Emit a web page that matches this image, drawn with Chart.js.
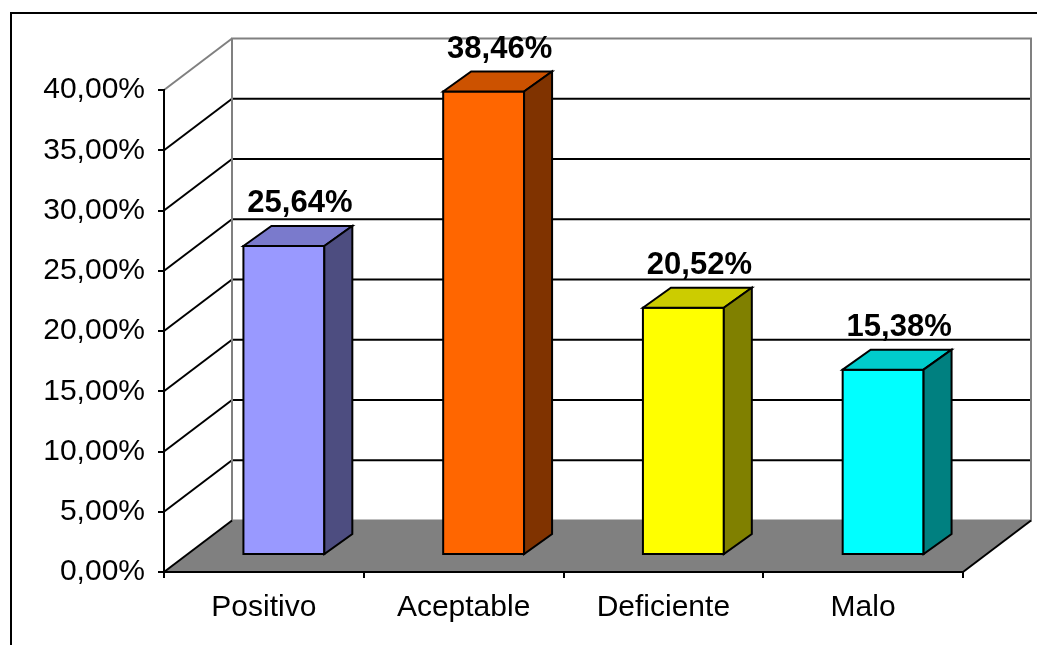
<!DOCTYPE html>
<html>
<head>
<meta charset="utf-8">
<title>Evaluación</title>
<script src="https://cdn.jsdelivr.net/npm/chart.js@4.4.1/dist/chart.umd.min.js"></script>
<style>
  html, body { margin: 0; padding: 0; background: #fff; }
  canvas { display: block; }
</style>
</head>
<body>
<canvas id="chart" width="1037" height="645"></canvas>
<script>
// ---- data ----
const categories = ['Positivo', 'Aceptable', 'Deficiente', 'Malo'];
const values = [25.64, 38.46, 20.52, 15.38];
const yMin = 0, yMax = 40, yStep = 5;

// face colours of each bar: front, top, right side
const frontColors = ['#9999FF', '#FF6600', '#FFFF00', '#00FFFF'];
const topColors = ['#7A7ACC', '#CC5200', '#CCCC00', '#00CCCC'];
const sideColors = ['#4D4D80', '#803300', '#808000', '#008080'];

// ---- 3d geometry (pixel offsets into depth) ----
const WALL = { dx: 68, dy: -51.5 };
const BAR_FRONT = { dx: 20, dy: -17 };
const BAR_BACK = { dx: 48, dy: -37 };

const FONT = 'Arial, "Liberation Sans", sans-serif';

function pct(v){ return Number(v).toFixed(2).replace('.', ',') + '%'; }

function poly(ctx, pts, fill, stroke, lw){
  ctx.beginPath();
  ctx.moveTo(pts[0][0], pts[0][1]);
  for(let i=1;i<pts.length;i++) ctx.lineTo(pts[i][0], pts[i][1]);
  ctx.closePath();
  if(fill){ ctx.fillStyle = fill; ctx.fill(); }
  if(stroke){ ctx.strokeStyle = stroke; ctx.lineWidth = lw || 2; ctx.stroke(); }
}

function seg(ctx, x1, y1, x2, y2, color, lw){
  ctx.beginPath();
  ctx.moveTo(x1, y1);
  ctx.lineTo(x2, y2);
  ctx.strokeStyle = color;
  ctx.lineWidth = lw || 2;
  ctx.stroke();
}

// walls, floor and frame behind the axes
const box3d = {
  id: 'box3d',
  beforeDraw(chart){
    const { ctx, chartArea: a, scales: { y } } = chart;
    const L = a.left, R = a.right, B = y.getPixelForValue(yMin), T = y.getPixelForValue(yMax);
    const dx = WALL.dx, dy = WALL.dy;
    ctx.save();

    // outer frame
    ctx.fillStyle = '#000';
    ctx.fillRect(10, 12, 2, chart.height - 12);
    ctx.fillRect(10, 12, chart.width - 10, 2);

    // back wall + side wall gridlines
    for(let v = yMin + yStep; v < yMax; v += yStep){
      const py = y.getPixelForValue(v);
      seg(ctx, L + dx, py + dy, R + dx, py + dy, '#000', 2);
      seg(ctx, L, py, L + dx, py + dy, '#000', 2);
    }
    // wall outlines
    ctx.lineJoin = 'miter';
    poly(ctx, [[L + dx, T + dy], [R + dx, T + dy], [R + dx, B + dy], [L + dx, B + dy]], null, '#808080', 2);
    seg(ctx, L, T, L + dx, T + dy, '#808080', 2);

    // floor
    poly(ctx, [[L, B], [R, B], [R + dx, B + dy], [L + dx, B + dy]], '#808080', null);
    seg(ctx, L, B, L + dx, B + dy, '#000', 2);
    seg(ctx, R, B, R + dx, B + dy, '#000', 2);
    seg(ctx, L, B, R, B, '#000', 2);
    ctx.restore();
  },
  beforeDatasetsDraw(chart){
    const { ctx } = chart;
    const meta = chart.getDatasetMeta(0);
    ctx.save();
    ctx.lineJoin = 'miter';
    meta.data.forEach((el, i) => {
      const { x, y, base, width } = el.getProps(['x', 'y', 'base', 'width'], true);
      const l = x - width / 2, r = x + width / 2;
      const f = BAR_FRONT, b = BAR_BACK;
      poly(ctx, [[l + f.dx, y + f.dy], [r + f.dx, y + f.dy], [r + f.dx, base + f.dy], [l + f.dx, base + f.dy]], frontColors[i], '#000', 2);
      poly(ctx, [[l + f.dx, y + f.dy], [l + b.dx, y + b.dy], [r + b.dx, y + b.dy], [r + f.dx, y + f.dy]], topColors[i], '#000', 2);
      poly(ctx, [[r + f.dx, y + f.dy], [r + b.dx, y + b.dy], [r + b.dx, base + b.dy], [r + f.dx, base + f.dy]], sideColors[i], '#000', 2);
    });
    ctx.restore();
    return false; // faces drawn above, skip the flat bars
  },
  afterDraw(chart){
    const { ctx } = chart;
    const meta = chart.getDatasetMeta(0);
    ctx.save();
    ctx.font = 'bold 31px ' + FONT;
    ctx.fillStyle = '#000';
    ctx.textAlign = 'center';
    ctx.textBaseline = 'alphabetic';
    meta.data.forEach((el, i) => {
      const { x, y } = el.getProps(['x', 'y'], true);
      ctx.fillText(pct(values[i]), x + 36, y - 51);
    });
    ctx.restore();
  }
};

new Chart(document.getElementById('chart'), {
  type: 'bar',
  data: {
    labels: categories,
    datasets: [{
      data: values,
      backgroundColor: frontColors,
      categoryPercentage: 1,
      barPercentage: 0.405
    }]
  },
  options: {
    responsive: false,
    animation: false,
    layout: { padding: { left: 0, right: 74, top: 90, bottom: 0 } },
    plugins: { legend: { display: false }, tooltip: { enabled: false } },
    scales: {
      x: {
        offset: true,
        grid: { offset: true, drawOnChartArea: false, drawTicks: true, tickLength: 6, color: '#000', lineWidth: 2 },
        border: { display: true, color: '#000', width: 2 },
        ticks: { color: '#000', font: { family: FONT, size: 30 }, padding: 12, maxRotation: 0 },
        afterFit(scale){ scale.height = 73; }
      },
      y: {
        min: yMin,
        max: yMax,
        grid: { drawOnChartArea: false, drawTicks: true, tickLength: 6, color: '#000', lineWidth: 2 },
        border: { display: true, color: '#000', width: 2 },
        ticks: { stepSize: yStep, color: '#000', font: { family: FONT, size: 30 }, padding: 13, callback: v => pct(v) },
        afterFit(scale){ scale.width = 164; }
      }
    }
  },
  plugins: [box3d]
});
</script>
</body>
</html>
